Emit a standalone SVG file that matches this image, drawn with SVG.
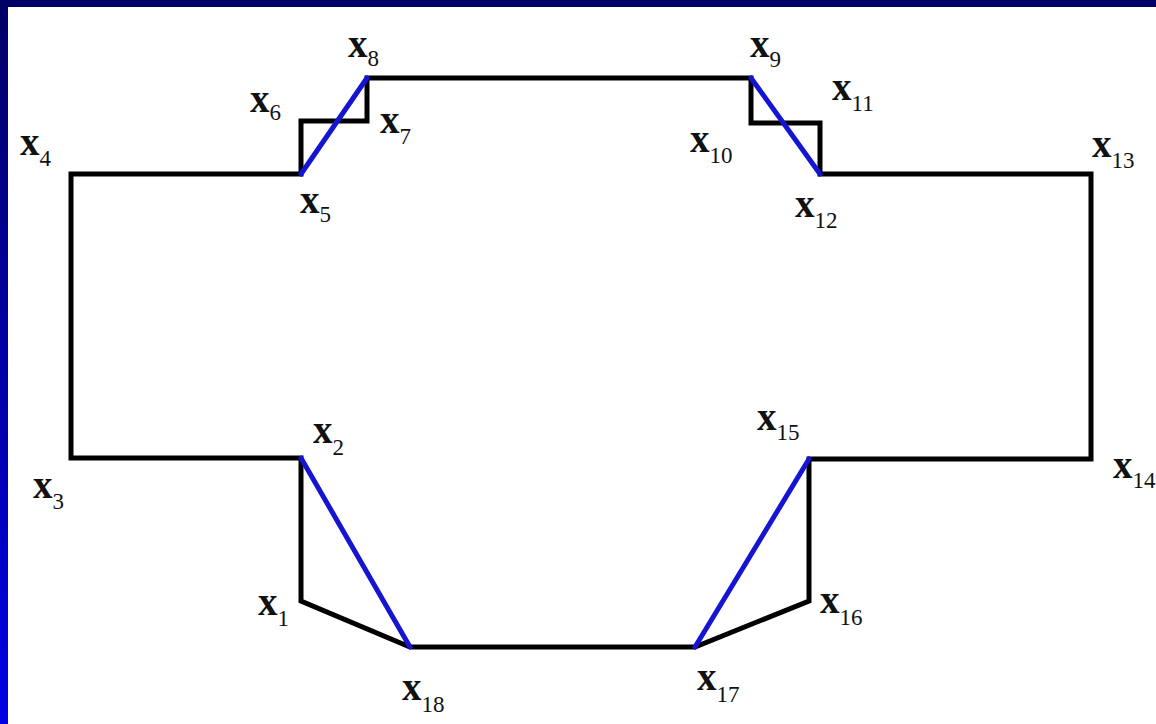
<svg xmlns="http://www.w3.org/2000/svg" width="1156" height="724" viewBox="0 0 1156 724">
<defs>
<linearGradient id="side" x1="0" y1="0" x2="0" y2="1">
<stop offset="0" stop-color="#000066"/>
<stop offset="1" stop-color="#0000e6"/>
</linearGradient>
<style>
.e{stroke:#000;stroke-width:5;fill:none;stroke-linecap:square;stroke-linejoin:miter}
.b{stroke:#1414d2;stroke-width:5;fill:none;stroke-linecap:round}
.l{font-family:"Liberation Serif","Times New Roman",serif;font-size:39px;font-weight:bold;fill:#111}
.s{font-size:23px;font-weight:normal}
</style>
</defs>
<rect x="0" y="0" width="1156" height="724" fill="#fff"/>
<rect x="0" y="0" width="1156" height="7" fill="#000066"/>
<rect x="0" y="0" width="8" height="724" fill="url(#side)"/>
<g id="connectors">
<polyline class="e" points="71,458 71,174 301,174 301,121 367,121 367,78 751,78 751,123 820,123 820,174 1091,174 1091,459 809,459 809,601 695,647 410,647 301,601 301,458 71,458"/>
<line class="b" x1="301" y1="174" x2="367" y2="78"/>
<line class="b" x1="751" y1="78" x2="820" y2="174"/>
<line class="b" x1="301" y1="458" x2="410" y2="647"/>
<line class="b" x1="809" y1="459" x2="695" y2="647"/>
</g>
<g id="x1"><text class="l" x="258" y="615">x<tspan class="s" dy="11">1</tspan></text></g>
<g id="x2"><text class="l" x="313" y="443">x<tspan class="s" dy="12">2</tspan></text></g>
<g id="x3"><text class="l" x="33" y="498">x<tspan class="s" dy="11">3</tspan></text></g>
<g id="x4"><text class="l" x="20" y="155">x<tspan class="s" dy="11">4</tspan></text></g>
<g id="x5"><text class="l" x="300" y="213">x<tspan class="s" dy="9">5</tspan></text></g>
<g id="x6"><text class="l" x="250" y="112">x<tspan class="s" dy="8">6</tspan></text></g>
<g id="x7"><text class="l" x="380" y="133">x<tspan class="s" dy="11">7</tspan></text></g>
<g id="x8"><text class="l" x="348" y="57">x<tspan class="s" dy="9">8</tspan></text></g>
<g id="x9"><text class="l" x="750" y="57">x<tspan class="s" dy="10">9</tspan></text></g>
<g id="x10"><text class="l" x="690" y="152">x<tspan class="s" dy="11">10</tspan></text></g>
<g id="x11"><text class="l" x="832" y="100">x<tspan class="s" dy="11">11</tspan></text></g>
<g id="x12"><text class="l" x="795" y="217">x<tspan class="s" dy="11">12</tspan></text></g>
<g id="x13"><text class="l" x="1092" y="157">x<tspan class="s" dy="11">13</tspan></text></g>
<g id="x14"><text class="l" x="1113" y="478">x<tspan class="s" dy="10">14</tspan></text></g>
<g id="x15"><text class="l" x="757" y="430">x<tspan class="s" dy="10">15</tspan></text></g>
<g id="x16"><text class="l" x="820" y="613">x<tspan class="s" dy="12">16</tspan></text></g>
<g id="x17"><text class="l" x="697" y="690">x<tspan class="s" dy="12">17</tspan></text></g>
<g id="x18"><text class="l" x="402" y="700">x<tspan class="s" dy="12">18</tspan></text></g>
</svg>
